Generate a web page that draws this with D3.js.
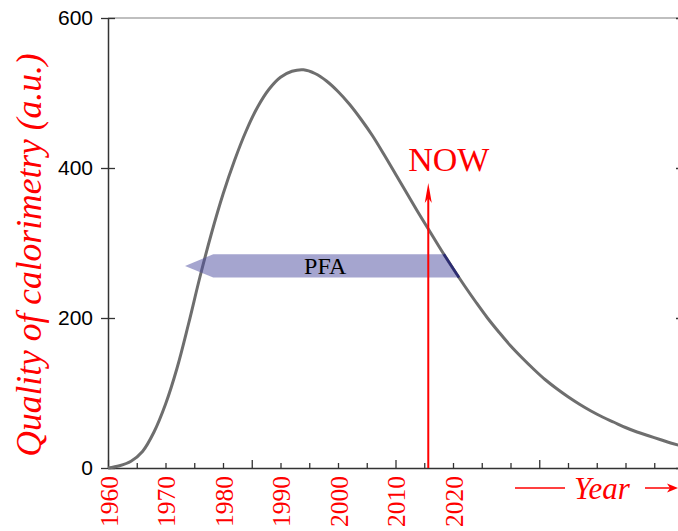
<!DOCTYPE html>
<html>
<head>
<meta charset="utf-8">
<script src="https://cdn.jsdelivr.net/npm/d3@7"></script>
<style>
  body { margin: 0; background: #fff; }
  svg { display: block; }
</style>
</head>
<body>
<svg id="chart" width="678" height="531"></svg>
<script>
// curve (year, quality in a.u.)
var years = [1960, 1962, 1964, 1966, 1968, 1970, 1972, 1974, 1976, 1978,
             1980, 1982, 1984, 1986, 1988, 1990, 1992, 1994, 1996, 1998,
             2000, 2002, 2004, 2006, 2008, 2010, 2012, 2014, 2016, 2018,
             2020, 2022, 2024, 2026, 2028, 2030, 2032, 2034, 2036, 2038,
             2040, 2042, 2044, 2046, 2048, 2050, 2052, 2054, 2056, 2058, 2060];
var quality = [0, 3, 9, 22, 48, 85, 133, 192, 255, 313,
               365, 410, 449, 481, 505, 521, 529, 531, 526, 516,
               502, 485, 465, 443, 418, 392, 366, 340, 315, 290,
               266, 243, 221, 200, 181, 163, 147, 132, 118, 106,
               95, 85, 76, 68, 61, 54, 48, 43, 38, 33, 29];

var yTicks = [0, 200, 400, 600];
var xTicks = d3.range(1960, 2061, 5);
var xLabels = [1960, 1970, 1980, 1990, 2000, 2010, 2020];

// PFA band (years / a.u.)
var pfaTip = 1973.4, pfaNeck = 1978.3;
var pfaTop = 285, pfaBottom = 254;
// NOW arrow
var nowYear = 2015.7, nowTip = 380;

var svg = d3.select("#chart");
var x = d3.scaleLinear().domain([1960, 2060]).range([108, 683]);
var y = d3.scaleLinear().domain([0, 600]).range([468, 18]);

// frame: top line and right axis
svg.append("line")
  .attr("x1", x(1960)).attr("x2", x(2060))
  .attr("y1", y(600)).attr("y2", y(600))
  .attr("stroke", "#aaa").attr("stroke-width", 1.5);

var rightAxis = svg.append("g")
  .attr("transform", "translate(" + x(2060) + ",0)")
  .call(d3.axisRight(y).tickValues(yTicks).tickSize(7).tickFormat(""));
rightAxis.select(".domain").attr("stroke", "#aaa");
rightAxis.selectAll(".tick line").attr("x1", -7).attr("stroke", "#333").attr("stroke-width", 1.3);

// bottom axis, ticks inward
var xAxis = svg.append("g")
  .attr("transform", "translate(0," + y(0) + ")")
  .call(d3.axisBottom(x).tickValues(xTicks).tickSizeOuter(0)
    .tickFormat(function(d) { return xLabels.indexOf(d) >= 0 ? d : ""; }));
xAxis.select(".domain").attr("stroke", "#333").attr("stroke-width", 1.5);
xAxis.selectAll(".tick line")
  .attr("y2", function(d) { return (d - 1960) % 25 == 0 ? -8 : -5; })
  .attr("stroke", "#333").attr("stroke-width", 1.3);
xAxis.selectAll(".tick text")
  .attr("transform", "rotate(-90)")
  .attr("x", -8).attr("y", 0).attr("dy", "0.36em")
  .style("text-anchor", "end")
  .style("font-family", "'Liberation Serif', 'DejaVu Serif', serif")
  .style("font-size", "25.5px")
  .attr("fill", "#ff0000");

// left axis, ticks crossing
var yAxis = svg.append("g")
  .attr("transform", "translate(" + x(1960) + ",0)")
  .call(d3.axisLeft(y).tickValues(yTicks).tickSize(7).tickPadding(8).tickSizeOuter(0));
yAxis.select(".domain").attr("stroke", "#333").attr("stroke-width", 1.5);
yAxis.selectAll(".tick line").attr("x1", 7).attr("stroke", "#333").attr("stroke-width", 1.3);
yAxis.selectAll(".tick text")
  .style("font-family", "'Liberation Sans', Arial, sans-serif")
  .style("font-size", "21px")
  .attr("fill", "#000");

// the curve
var pts = years.map(function(d, i) { return [d, quality[i]]; });
var line = d3.line()
  .x(function(d) { return x(d[0]); })
  .y(function(d) { return y(d[1]); })
  .curve(d3.curveCatmullRom.alpha(0.5));
svg.append("path")
  .datum(pts)
  .attr("d", line)
  .attr("fill", "none")
  .attr("stroke", "#6e6e6e")
  .attr("stroke-width", 3);

// where the falling curve meets a level
function fallYear(v) {
  for (var i = 1; i < years.length; i++) {
    if (years[i] > 1994 && quality[i - 1] >= v && quality[i] < v) {
      var t = (quality[i - 1] - v) / (quality[i - 1] - quality[i]);
      return years[i - 1] + t * (years[i] - years[i - 1]);
    }
  }
  return 2060;
}
var rTop = fallYear(pfaTop), rBot = fallYear(pfaBottom);
var pfaMid = (pfaTop + pfaBottom) / 2;

svg.append("path")
  .attr("d", "M" + x(pfaTip) + "," + y(pfaMid) +
    "L" + x(pfaNeck) + "," + y(pfaTop) +
    "L" + x(rTop) + "," + y(pfaTop) +
    "L" + x(rBot) + "," + y(pfaBottom) +
    "L" + x(pfaNeck) + "," + y(pfaBottom) + "Z")
  .attr("fill", "rgb(76,76,160)")
  .attr("fill-opacity", 0.5);
svg.append("line")
  .attr("x1", x(rTop)).attr("y1", y(pfaTop))
  .attr("x2", x(rBot)).attr("y2", y(pfaBottom))
  .attr("stroke", "#2b2b72").attr("stroke-width", 2.5);

svg.append("text")
  .attr("x", x(pfaNeck) + 112).attr("y", y(pfaMid))
  .attr("dy", "0.35em")
  .attr("text-anchor", "middle")
  .style("font-family", "'Liberation Serif', serif")
  .style("font-size", "24px")
  .text("PFA");

// NOW arrow
var nx = x(nowYear);
svg.append("line")
  .attr("x1", nx).attr("x2", nx)
  .attr("y1", y(0)).attr("y2", y(nowTip) + 10)
  .attr("stroke", "#ff0000").attr("stroke-width", 2);
svg.append("path")
  .attr("d", "M" + nx + "," + y(nowTip) +
    "L" + (nx + 3.5) + "," + (y(nowTip) + 20) +
    "L" + nx + "," + (y(nowTip) + 15) +
    "L" + (nx - 3.5) + "," + (y(nowTip) + 20) + "Z")
  .attr("fill", "#ff0000");
svg.append("text")
  .attr("x", nx - 20).attr("y", y(nowTip) - 12)
  .style("font-family", "'Liberation Serif', serif")
  .style("font-size", "34px")
  .attr("fill", "#ff0000")
  .text("NOW");

// axis titles
svg.append("text")
  .attr("transform", "translate(41,255) rotate(-90)")
  .attr("text-anchor", "middle")
  .style("font-family", "'Liberation Serif', serif")
  .style("font-style", "italic")
  .style("font-size", "35.5px")
  .attr("fill", "#ff0000")
  .text("Quality of calorimetry (a.u.)");

var yearG = svg.append("g").attr("transform", "translate(0,488)");
yearG.append("line")
  .attr("x1", 515).attr("x2", 565).attr("y1", 0).attr("y2", 0)
  .attr("stroke", "#ff0000").attr("stroke-width", 1.5);
yearG.append("text")
  .attr("x", 574).attr("y", 11)
  .style("font-family", "'Liberation Serif', serif")
  .style("font-style", "italic")
  .style("font-size", "31px")
  .attr("fill", "#ff0000")
  .text("Year");
yearG.append("line")
  .attr("x1", 645).attr("x2", 672).attr("y1", 0).attr("y2", 0)
  .attr("stroke", "#ff0000").attr("stroke-width", 1.5);
yearG.append("path")
  .attr("d", "M678,0L667,-4.5L670,0L667,4.5Z")
  .attr("fill", "#ff0000");
</script>
</body>
</html>
